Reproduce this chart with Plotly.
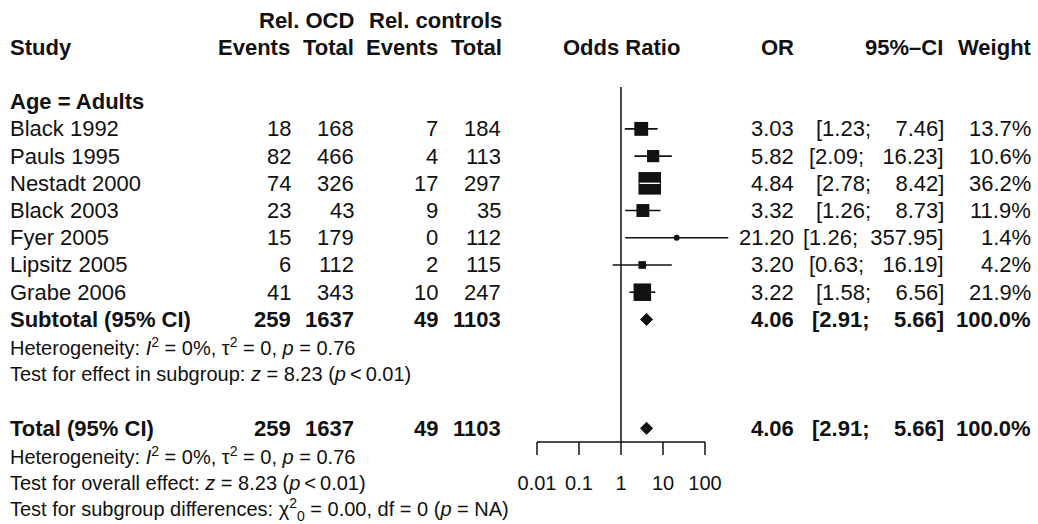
import numpy as np
import plotly.graph_objects as go

# ---------------- data ----------------
studies = ["Black 1992", "Pauls 1995", "Nestadt 2000", "Black 2003",
           "Fyer 2005", "Lipsitz 2005", "Grabe 2006"]
ev_ocd = [18, 82, 74, 23, 15, 6, 41]
n_ocd = [168, 466, 326, 43, 179, 112, 343]
ev_ctrl = [7, 4, 17, 9, 0, 2, 10]
n_ctrl = [184, 113, 297, 35, 112, 115, 247]
or_est = [3.03, 5.82, 4.84, 3.32, 21.20, 3.20, 3.22]
ci_lo = [1.23, 2.09, 2.78, 1.26, 1.26, 0.63, 1.58]
ci_hi = [7.46, 16.23, 8.42, 8.73, 357.95, 16.19, 6.56]
weight = [13.7, 10.6, 36.2, 11.9, 1.4, 4.2, 21.9]

pooled_counts = [259, 1637, 49, 1103]
pooled_or, pooled_lo, pooled_hi, pooled_w = 4.06, 2.91, 5.66, 100.0

tick_vals = [0.01, 0.1, 1, 10, 100]
tick_text = ["0.01", "0.1", "1", "10", "100"]

het_text = "Heterogeneity: <i>I</i><sup>2</sup> = 0%, τ<sup>2</sup> = 0, <i>p</i> = 0.76"
sub_test_text = "Test for effect in subgroup: <i>z</i> = 8.23 (<i>p</i>\u2009<\u20090.01)"
overall_test_text = "Test for overall effect: <i>z</i> = 8.23 (<i>p</i>\u2009<\u20090.01)"
subgroup_diff_text = "Test for subgroup differences: χ<sup>2</sup><sub>0</sub> = 0.00, df = 0 (<i>p</i> = NA)"

# ---------------- layout geometry ----------------
W, H = 1038, 524
ROW0, ROWH = 20.0, 27.22          # pixel centre of row 0, row height
X_ONE, PX_DEC = 621.0, 42.0       # pixel of OR = 1, pixels per decade
FONT = "Liberation Sans, Arial, Helvetica, sans-serif"
FS = 22        # table text
FS_STAT = 20   # heterogeneity / test lines
FS_TICK = 20
INK = "#111111"

# right edges of the numeric columns (pixels)
C_EV1, C_N1, C_EV2, C_N2 = 291, 354, 438, 501
C_OR, C_CI, C_W = 794, 944, 1031

study_rows = list(range(4, 4 + len(studies)))
sub_row = study_rows[-1] + 1
total_row = sub_row + 4
axis_row = (442 - ROW0) / ROWH
tick_end_row = (455 - ROW0) / ROWH
ticklab_row = (485 - ROW0) / ROWH
vline_top = (87 - ROW0) / ROWH

fig = go.Figure()
annotations = []


def ann(text, xpx, row, anchor="left", bold=False, size=FS):
    annotations.append(dict(
        text=f"<b>{text}</b>" if bold else text,
        x=xpx / W, xref="paper", y=row, yref="y",
        xanchor=anchor, yanchor="middle", showarrow=False,
        font=dict(family=FONT, size=size, color=INK),
        borderpad=0, borderwidth=0,
    ))


all_hi = ci_hi + [pooled_hi]
hi_w = max(len(f"{v:.2f}") for v in all_hi)


def ci_str(lo, hi):
    h = f"{hi:.2f}"
    pad = "\u00a0" * (hi_w - len(h))
    return f"[{lo:.2f};\u00a0\u00a0{pad}{h}]"


# ---------------- header ----------------
ann("Rel. OCD", C_N1, 0, "right", True)
ann("Rel. controls", C_N2 + 1, 0, "right", True)
ann("Study", 10, 1, "left", True)
ann("Events", C_EV1 - 1, 1, "right", True)
ann("Total", C_N1, 1, "right", True)
ann("Events", C_EV2, 1, "right", True)
ann("Total", C_N2 + 1, 1, "right", True)
ann("Odds Ratio", X_ONE, 1, "center", True)
ann("OR", C_OR, 1, "right", True)
ann("95%–CI", C_CI - 1, 1, "right", True)
ann("Weight", C_W + 1, 1, "right", True)

ann("Age = Adults", 10, 3, "left", True)

for i, r in enumerate(study_rows):
    ann(studies[i], 10, r)
    ann(str(ev_ocd[i]), C_EV1, r, "right")
    ann(str(n_ocd[i]), C_N1, r, "right")
    ann(str(ev_ctrl[i]), C_EV2, r, "right")
    ann(str(n_ctrl[i]), C_N2, r, "right")
    ann(f"{or_est[i]:.2f}", C_OR, r, "right")
    ann(ci_str(ci_lo[i], ci_hi[i]), C_CI, r, "right")
    ann(f"{weight[i]:.1f}%", C_W, r, "right")

for row, label in [(sub_row, "Subtotal (95% CI)"), (total_row, "Total (95% CI)")]:
    ann(label, 10, row, "left", True)
    ann(str(pooled_counts[0]), C_EV1, row, "right", True)
    ann(str(pooled_counts[1]), C_N1, row, "right", True)
    ann(str(pooled_counts[2]), C_EV2, row, "right", True)
    ann(str(pooled_counts[3]), C_N2, row, "right", True)
    ann(f"{pooled_or:.2f}", C_OR, row, "right", True)
    ann(ci_str(pooled_lo, pooled_hi), C_CI, row, "right", True)
    ann(f"{pooled_w:.1f}%", C_W, row, "right", True)

ann(het_text, 10, sub_row + 1, size=FS_STAT)
ann(sub_test_text, 10, sub_row + 2, size=FS_STAT)
ann(het_text, 10, total_row + 1, size=FS_STAT)
ann(overall_test_text, 10, total_row + 2, size=FS_STAT)
ann(subgroup_diff_text, 10, total_row + 3, size=FS_STAT)

# ---------------- reference line at OR = 1 ----------------
fig.add_trace(go.Scatter(x=[1, 1], y=[vline_top, axis_row], mode="lines",
                         line=dict(color=INK, width=1.5), hoverinfo="skip"))

# ---------------- CI lines ----------------
xs, ys = [], []
for i, r in enumerate(study_rows):
    xs += [ci_lo[i], ci_hi[i], None]
    ys += [r, r, None]
fig.add_trace(go.Scatter(x=xs, y=ys, mode="lines",
                         line=dict(color=INK, width=1.6), hoverinfo="skip"))

# ---------------- study boxes ----------------
sizes = [max(3.75 * np.sqrt(w), 6) for w in weight]
symbols = ["circle" if 3.75 * np.sqrt(w) < 6 else "square" for w in weight]
fig.add_trace(go.Scatter(x=or_est, y=study_rows, mode="markers",
                         marker=dict(symbol=symbols, size=sizes, color=INK,
                                     opacity=1, line=dict(width=0)),
                         hoverinfo="skip"))

# white CI line where the interval lies inside the box
wx, wy = [], []
for i, r in enumerate(study_rows):
    half = sizes[i] / 2 / PX_DEC
    b_lo = or_est[i] * 10 ** (-half)
    b_hi = or_est[i] * 10 ** (half)
    if ci_lo[i] >= b_lo and ci_hi[i] <= b_hi:
        wx += [ci_lo[i], ci_hi[i], None]
        wy += [r, r, None]
if wx:
    fig.add_trace(go.Scatter(x=wx, y=wy, mode="lines",
                             line=dict(color="white", width=1.4), hoverinfo="skip"))

# ---------------- pooled diamonds ----------------
dh = 6.0 / ROWH
for row in (sub_row, total_row):
    fig.add_trace(go.Scatter(
        x=[pooled_lo, pooled_or, pooled_hi, pooled_or, pooled_lo],
        y=[row, row - dh, row, row + dh, row],
        mode="lines", fill="toself", fillcolor=INK,
        line=dict(color=INK, width=1), hoverinfo="skip"))

# ---------------- x axis (drawn on the log scale) ----------------
ax_x, ax_y = [tick_vals[0], tick_vals[-1], None], [axis_row, axis_row, None]
for v in tick_vals:
    ax_x += [v, v, None]
    ax_y += [axis_row, tick_end_row, None]
fig.add_trace(go.Scatter(x=ax_x, y=ax_y, mode="lines",
                         line=dict(color=INK, width=1.5), hoverinfo="skip"))
fig.add_trace(go.Scatter(x=tick_vals, y=[ticklab_row] * len(tick_vals),
                         mode="text", text=tick_text, textposition="middle center",
                         textfont=dict(family=FONT, size=FS_TICK, color=INK),
                         hoverinfo="skip"))

fig.update_layout(
    width=W, height=H,
    margin=dict(l=0, r=0, t=0, b=0),
    paper_bgcolor="white", plot_bgcolor="white",
    showlegend=False, hovermode=False,
    annotations=annotations,
    xaxis=dict(type="log", range=[-X_ONE / PX_DEC, (W - X_ONE) / PX_DEC],
               domain=[0, 1], visible=False, fixedrange=True),
    yaxis=dict(range=[(H - ROW0) / ROWH, -ROW0 / ROWH], domain=[0, 1],
               visible=False, fixedrange=True),
)

fig.write_html("out.html", config={"displayModeBar": False},
               post_script="document.body.style.margin='0';document.body.style.padding='0';")
